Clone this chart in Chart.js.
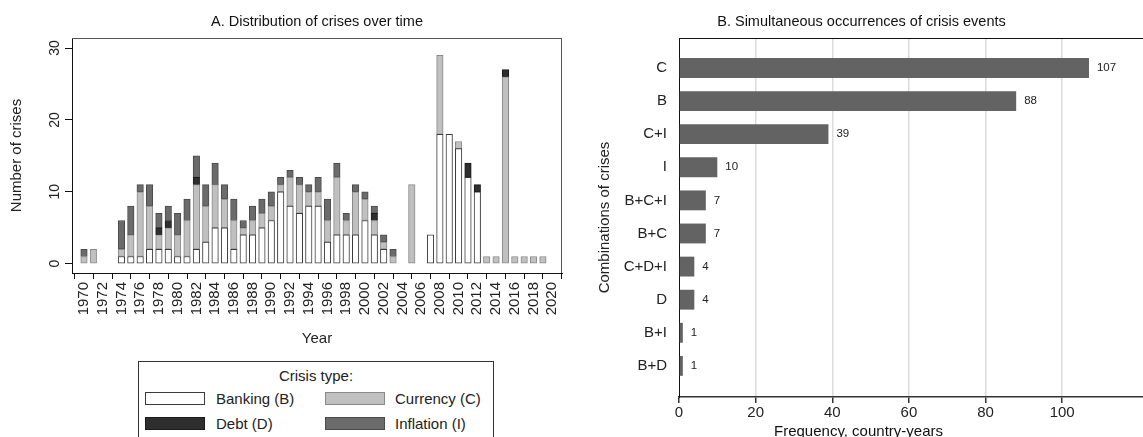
<!DOCTYPE html>
<html lang="en">
<head>
    <meta charset="UTF-8">
    <title>Crises</title>
    <script src="https://cdn.jsdelivr.net/npm/chart.js"></script>
    <style>
        body { margin: 0; background: #fff; font-family: 'Liberation Sans', Arial, sans-serif; color: #222; }
        #wrap { position: relative; width: 1143px; height: 437px; overflow: hidden; background: #fff; }
        #panelA { position: absolute; left: 0; top: 0; width: 580px; height: 352px; }
        #panelB { position: absolute; left: 580px; top: 0; width: 563px; height: 437px; }
        #legendBox { position: absolute; left: 138px; top: 361px; width: 356px; height: 100px; border: 1px solid #333; box-sizing: border-box; }
        #legendBox .ttl { position: absolute; left: 0; width: 100%; top: 5px; text-align: center; font-size: 15px; }
        #legendBox .sw { position: absolute; width: 60px; height: 13px; box-sizing: border-box; }
        #legendBox .lb { position: absolute; font-size: 15px; line-height: 15px; }
    </style>
</head>
<body>
<div id="wrap">
    <div id="panelA"><canvas id="chartA"></canvas></div>
    <div id="panelB"><canvas id="chartB"></canvas></div>
    <div id="legendBox">
        <div class="ttl">Crisis type:</div>
        <div class="sw" style="left:6px; top:30px; background:#fff; border:1px solid #3a3a3a;"></div>
        <div class="lb" style="left:77px; top:29px;">Banking (B)</div>
        <div class="sw" style="left:186px; top:30px; background:#c0c0c0; border:1px solid #8a8a8a;"></div>
        <div class="lb" style="left:256px; top:29px;">Currency (C)</div>
        <div class="sw" style="left:6px; top:55px; background:#2e2e2e; border:1px solid #1a1a1a;"></div>
        <div class="lb" style="left:77px; top:54px;">Debt (D)</div>
        <div class="sw" style="left:186px; top:55px; background:#6b6b6b; border:1px solid #4a4a4a;"></div>
        <div class="lb" style="left:256px; top:54px;">Inflation (I)</div>
    </div>
</div>

<script>
    const FONT = "'Liberation Sans', Arial, sans-serif";

    // Panel A: crises per year, 1970-2019, by type
    const years = [];
    for (let y = 1970; y <= 2019; y++) years.push(y);

    const banking = [0,0,0,0,1,1,1,2,2,2, 1,1,2,3,5,5,2,4,4,5, 6,10,8,7,8,8,3,4,4,4, 6,4,2,0,0,0,0,4,18,18, 16,12,10,0,0,0,0,0,0,0];
    const currency = [1,2,0,0,1,3,9,6,2,3, 3,5,9,5,6,4,4,1,2,2, 2,1,4,4,2,2,3,8,2,6, 3,2,1,1,0,11,0,0,11,0, 1,0,0,1,1,26,1,1,1,1];
    const debt = [0,0,0,0,0,0,0,0,1,1, 0,0,1,0,0,0,0,0,0,0, 0,0,0,0,0,0,0,0,0,0, 0,1,0,0,0,0,0,0,0,0, 0,2,1,0,0,1,0,0,0,0];
    const inflation = [1,0,0,0,4,4,1,3,2,2, 3,3,3,3,3,2,3,1,2,2, 2,1,1,1,1,2,3,2,1,1, 1,1,1,1,0,0,0,0,0,0, 0,0,0,0,0,0,0,0,0,0];

    const yearTicks = [];
    for (let y = 1970; y <= 2020; y += 2) yearTicks.push(y);
    const countTicks = [0, 10, 20, 30];

    // Panel B: combinations of simultaneous crises
    const combos = ['C', 'B', 'C+I', 'I', 'B+C+I', 'B+C', 'C+D+I', 'D', 'B+I', 'B+D'];
    const freq = [107, 88, 39, 10, 7, 7, 4, 4, 1, 1];
    const freqTicks = [0, 20, 40, 60, 80, 100];

    function toPoints(values) {
        return years.map((yr, i) => ({ x: yr, y: values[i] === 0 ? null : values[i] }));
    }

    function series(label, values, fill, edge) {
        return {
            label: label,
            data: toPoints(values),
            backgroundColor: fill,
            borderColor: edge,
            borderWidth: 1,
            borderSkipped: false,
            barThickness: 6.5,
        };
    }

    // no label overhang padding, so the plot area keeps its fixed size
    function noSidePadding(s) {
        s.paddingLeft = 0;
        s.paddingRight = 0;
        s.paddingTop = 0;
        s.paddingBottom = 0;
    }

    // title centred over the plot area
    const panelTitle = {
        id: 'panelTitle',
        afterDraw(chart, args, opts) {
            const { ctx, chartArea } = chart;
            ctx.save();
            ctx.font = '14.5px ' + FONT;
            ctx.fillStyle = '#111';
            ctx.textAlign = 'center';
            ctx.textBaseline = 'middle';
            const cx = opts.centerOnCanvas ? chart.width / 2 : (chartArea.left + chartArea.right) / 2;
            ctx.fillText(opts.text, cx, 22);
            if (opts.xTitle) {
                ctx.font = '15px ' + FONT;
                ctx.fillText(opts.xTitle, chart.width / 2 - 3, 432);
            }
            ctx.restore();
        }
    };

    // box around the plot area
    const plotFrame = {
        id: 'plotFrame',
        afterDraw(chart, args, opts) {
            const { ctx, chartArea: a } = chart;
            ctx.save();
            ctx.strokeStyle = opts.color || '#444';
            ctx.lineWidth = 1;
            ctx.beginPath();
            ctx.moveTo(a.left, a.top + 0.5);
            ctx.lineTo(a.right, a.top + 0.5);
            if (opts.right) {
                ctx.moveTo(a.right - 0.5, a.top);
                ctx.lineTo(a.right - 0.5, a.bottom);
            }
            ctx.stroke();
            ctx.restore();
        }
    };

    // vertical y tick labels, read bottom to top
    const rotatedYTicks = {
        id: 'rotatedYTicks',
        afterDraw(chart) {
            const { ctx } = chart;
            const y = chart.scales.y;
            ctx.save();
            ctx.font = '14px ' + FONT;
            ctx.fillStyle = '#222';
            ctx.textAlign = 'center';
            ctx.textBaseline = 'middle';
            countTicks.forEach(v => {
                ctx.save();
                ctx.translate(y.right - 17, y.getPixelForValue(v));
                ctx.rotate(-Math.PI / 2);
                ctx.fillText(String(v), 0, 0);
                ctx.restore();
            });
            ctx.restore();
        }
    };

    // numbers at the end of each bar
    const barValues = {
        id: 'barValues',
        afterDatasetsDraw(chart) {
            const { ctx } = chart;
            const meta = chart.getDatasetMeta(0);
            ctx.save();
            ctx.font = '11.5px ' + FONT;
            ctx.fillStyle = '#222';
            ctx.textAlign = 'left';
            ctx.textBaseline = 'middle';
            meta.data.forEach((bar, i) => {
                ctx.fillText(String(freq[i]), bar.x + 8, bar.y);
            });
            ctx.restore();
        }
    };

    Chart.defaults.font.family = FONT;
    Chart.defaults.color = '#222';

    new Chart(document.getElementById('chartA'), {
        type: 'bar',
        data: {
            datasets: [
                series('Banking (B)', banking, '#ffffff', '#3a3a3a'),
                series('Currency (C)', currency, '#c0c0c0', '#8a8a8a'),
                series('Debt (D)', debt, '#2e2e2e', '#1a1a1a'),
                series('Inflation (I)', inflation, '#6b6b6b', '#4a4a4a'),
            ],
        },
        options: {
            responsive: true,
            maintainAspectRatio: false,
            animation: false,
            layout: { padding: { top: 38, right: 18, left: 0, bottom: 0 } },
            plugins: {
                legend: { display: false },
                tooltip: { enabled: false },
                panelTitle: { text: 'A. Distribution of crises over time' },
                plotFrame: { right: true, color: '#555' },
            },
            scales: {
                x: {
                    type: 'linear',
                    stacked: true,
                    offset: false,
                    min: 1968.72,
                    max: 2021.04,
                    afterBuildTicks: s => { s.ticks = yearTicks.map(v => ({ value: v })); },
                    afterFit: s => { s.height = 79; noSidePadding(s); },
                    grid: { drawOnChartArea: false, drawTicks: true, tickLength: 6, color: '#111' },
                    border: { color: '#111', width: 1 },
                    ticks: {
                        minRotation: 90,
                        maxRotation: 90,
                        autoSkip: false,
                        padding: 3,
                        font: { size: 15 },
                        callback: v => String(v),
                    },
                    title: { display: true, text: 'Year', font: { size: 15 }, padding: { top: 0, bottom: 4 } },
                },
                y: {
                    stacked: true,
                    min: -1.3,
                    max: 31.4,
                    afterBuildTicks: s => { s.ticks = countTicks.map(v => ({ value: v })); },
                    afterFit: s => { s.width = 72; noSidePadding(s); },
                    grid: { drawOnChartArea: false, drawTicks: true, tickLength: 7, color: '#111' },
                    border: { color: '#111', width: 1 },
                    ticks: { display: false },
                    title: { display: true, text: 'Number of crises', font: { size: 15 }, padding: { top: 8, bottom: 0 } },
                },
            },
        },
        plugins: [panelTitle, plotFrame, rotatedYTicks],
    });

    new Chart(document.getElementById('chartB'), {
        type: 'bar',
        data: {
            datasets: [{
                label: 'Frequency',
                data: freq.map((v, i) => ({ x: v, y: i + 1 })),
                backgroundColor: '#636363',
                borderWidth: 0,
                categoryPercentage: 1,
                barPercentage: 0.6,
            }],
        },
        options: {
            indexAxis: 'y',
            responsive: true,
            maintainAspectRatio: false,
            animation: false,
            layout: { padding: { top: 38, right: 0, left: 0, bottom: 0 } },
            plugins: {
                legend: { display: false },
                tooltip: { enabled: false },
                panelTitle: { text: 'B. Simultaneous occurrences of crisis events', centerOnCanvas: true, xTitle: 'Frequency, country-years' },
                plotFrame: { right: false, color: '#111' },
            },
            scales: {
                x: {
                    type: 'linear',
                    min: 0,
                    max: 121.1,
                    afterBuildTicks: s => { s.ticks = freqTicks.map(v => ({ value: v })); },
                    afterFit: s => { s.height = 40; noSidePadding(s); },
                    grid: {
                        drawOnChartArea: true,
                        drawTicks: true,
                        tickLength: 6,
                        lineWidth: 1.5,
                        color: c => (c.tick && c.tick.value === 0 ? 'rgba(0,0,0,0)' : '#dcdcdc'),
                        tickColor: '#333',
                    },
                    border: { color: '#333', width: 1.5 },
                    ticks: { padding: 1, font: { size: 15 }, callback: v => String(v) },
                },
                y: {
                    type: 'linear',
                    reverse: true,
                    offset: false,
                    min: 0.094,
                    max: 10.94,
                    afterBuildTicks: s => { s.ticks = combos.map((c, i) => ({ value: i + 1 })); },
                    afterFit: s => { s.width = 99; noSidePadding(s); },
                    grid: { display: false, drawTicks: false },
                    border: { display: true, color: '#111', width: 1 },
                    ticks: { padding: 12, font: { size: 15 }, callback: v => combos[v - 1] },
                    title: { display: true, text: 'Combinations of crises', font: { size: 15 }, padding: { top: 16, bottom: 0 } },
                },
            },
        },
        plugins: [panelTitle, plotFrame, barValues],
    });
</script>
</body>
</html>
